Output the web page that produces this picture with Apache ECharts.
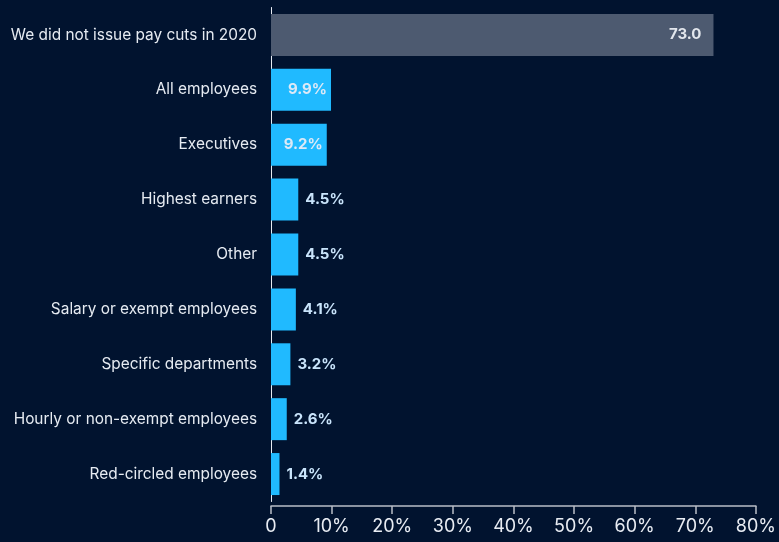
<!DOCTYPE html>
<html>
<head>
<meta charset="utf-8">
<style>
  html, body { margin: 0; padding: 0; background: #01132f; }
  #chart { width: 779px; height: 542px; }
</style>
<script src="https://cdn.jsdelivr.net/npm/echarts@6/dist/echarts.min.js"></script>
</head>
<body>
<div id="chart"></div>
<script>
// Pay-cut groups, top to bottom
const categories = [
  'We did not issue pay cuts in 2020',
  'All employees',
  'Executives',
  'Highest earners',
  'Other',
  'Salary or exempt employees',
  'Specific departments',
  'Hourly or non-exempt employees',
  'Red-circled employees'
];
const values = [73.0, 9.9, 9.2, 4.5, 4.5, 4.1, 3.2, 2.6, 1.4];
const valueLabels = ['73.0', '9.9%', '9.2%', '4.5%', '4.5%', '4.1%', '3.2%', '2.6%', '1.4%'];
const xTicks = [0, 10, 20, 30, 40, 50, 60, 70, 80];

const chart = echarts.init(document.getElementById('chart'));

const barData = values.map((v, i) => {
  const item = { value: v };
  if (i === 0) {
    item.itemStyle = { color: '#4d5a70' };
    item.label = { position: 'insideRight', distance: 12, color: '#e2e6ec' };
  } else if (v > 8) {
    item.label = { position: 'insideRight', distance: 4, color: '#dce9f7' };
  }
  return item;
});

chart.setOption({
  backgroundColor: '#01132f',
  textStyle: { fontFamily: 'Inter' },
  grid: { left: 271, right: 22.3, top: 7.5, bottom: 40.5, containLabel: false },
  xAxis: {
    type: 'value',
    min: xTicks[0],
    max: xTicks[xTicks.length - 1],
    interval: 10,
    offset: 4.5,
    axisLine: { show: true, lineStyle: { color: '#b9bec8', width: 1.5 } },
    axisTick: { show: true, length: 8, lineStyle: { color: '#b9bec8', width: 1.5 } },
    splitLine: { show: false },
    axisLabel: {
      color: '#e8ecf3',
      fontSize: 18,
      margin: 12,
      fontFamily: 'Inter',
      formatter: v => (v === 0 ? '0' : v + '%')
    }
  },
  yAxis: {
    type: 'category',
    inverse: true,
    data: categories,
    axisLine: { show: true, lineStyle: { color: '#e8ecf3', width: 1 } },
    axisTick: { show: false },
    axisLabel: { color: '#e6ebf2', fontSize: 15.4, margin: 14, fontFamily: 'Inter' }
  },
  series: [{
    type: 'bar',
    data: barData,
    barWidth: '76.5%',
    itemStyle: { color: '#20baff' },
    label: {
      show: true,
      position: 'right',
      distance: 7,
      color: '#c9e4fb',
      fontSize: 15,
      fontWeight: 'bold',
      fontFamily: 'Inter',
      formatter: p => valueLabels[p.dataIndex]
    },
    animation: false
  }]
});
</script>
</body>
</html>
